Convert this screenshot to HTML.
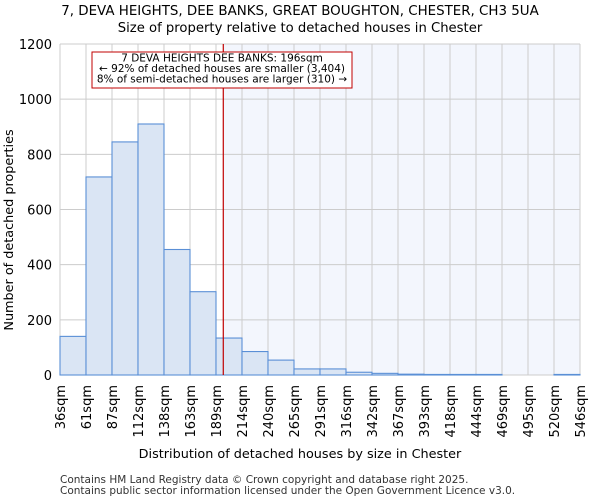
<!DOCTYPE html>
<html><head><meta charset="utf-8"><style>
body{margin:0;background:#fff;font-family:"DejaVu Sans","Liberation Sans",sans-serif;}
</style></head><body>
<svg id="chart" width="600" height="500" xmlns="http://www.w3.org/2000/svg" font-family="DejaVu Sans, Liberation Sans, sans-serif">
<text x="300" y="15" text-anchor="middle" font-size="13.4">7, DEVA HEIGHTS, DEE BANKS, GREAT BOUGHTON, CHESTER, CH3 5UA</text>
<text x="300" y="32" text-anchor="middle" font-size="13.2">Size of property relative to detached houses in Chester</text>
<g id="plot"></g>
<text x="300" y="458" text-anchor="middle" font-size="12.8">Distribution of detached houses by size in Chester</text>
<text transform="translate(13,230) rotate(-90)" text-anchor="middle" font-size="12.8">Number of detached properties</text>
<text x="60" y="483" font-size="10.5" fill="#333">Contains HM Land Registry data © Crown copyright and database right 2025.</text>
<text x="60" y="494" font-size="10.5" fill="#333">Contains public sector information licensed under the Open Government Licence v3.0.</text>
</svg>
<script>
const edgeLabels=["36sqm","61sqm","87sqm","112sqm","138sqm","163sqm","189sqm","214sqm","240sqm","265sqm","291sqm","316sqm","342sqm","367sqm","393sqm","418sqm","444sqm","469sqm","495sqm","520sqm","546sqm"];
const edgeValues=[36,61,87,112,138,163,189,214,240,265,291,316,342,367,393,418,444,469,495,520,546];
const counts=[140,718,845,910,455,302,134,85,54,22,22,10,6,3,2,2,2,0,0,2];
const yTicks=[0,200,400,600,800,1000,1200];
const propertySize=196;
const NS="http://www.w3.org/2000/svg";
const L=60,R=580,T=44,B=375;
const nb=counts.length;
const xi=i=>L+(R-L)*i/nb;
const xv=v=>{let i=0;while(i<nb-1&&v>edgeValues[i+1])i++;return xi(i)+(v-edgeValues[i])/(edgeValues[i+1]-edgeValues[i])*(R-L)/nb;};
const y=v=>B-(B-T)*v/1200;
const g=document.getElementById('plot');
function mk(t,a){const e=document.createElementNS(NS,t);for(const k in a)e.setAttribute(k,a[k]);g.appendChild(e);return e;}
const px=xv(propertySize);
let e=mk('rect',{x:px,y:T,width:R-px,height:B-T,fill:'#f3f6fd'});


for(let i=0;i<=nb;i++){e=mk('line',{x1:xi(i),x2:xi(i),y1:T,y2:B,stroke:'#cccccc'});

}
yTicks.forEach(t=>{e=mk('line',{x1:L,x2:R,y1:y(t),y2:y(t),stroke:'#cccccc'});


e=mk('text',{x:L-8,y:y(t)+5,'text-anchor':'end','font-size':13});e.textContent=t;

});
counts.forEach((c,i)=>{if(c<=0)return;e=mk('rect',{x:xi(i),y:y(c),width:(R-L)/nb,height:B-y(c),fill:'#dae5f4',stroke:'#5a8fd6','stroke-width':1.1});

});
edgeLabels.forEach((l,i)=>{e=mk('text',{transform:`translate(${xi(i)+5},385) rotate(-90)`,'text-anchor':'end','font-size':13});e.textContent=l;

});
e=mk('line',{x1:px,x2:px,y1:T,y2:B,stroke:'#c00000','stroke-width':1.2});


e=mk('rect',{x:92,y:52,width:260,height:36,fill:'#fff',stroke:'#c00000'});


["7 DEVA HEIGHTS DEE BANKS: 196sqm","← 92% of detached houses are smaller (3,404)","8% of semi-detached houses are larger (310) →"].forEach((s,i)=>{e=mk('text',{x:222,y:61.5+i*10.5,'text-anchor':'middle','font-size':10.5});e.textContent=s;

});
</script>
</body></html>
